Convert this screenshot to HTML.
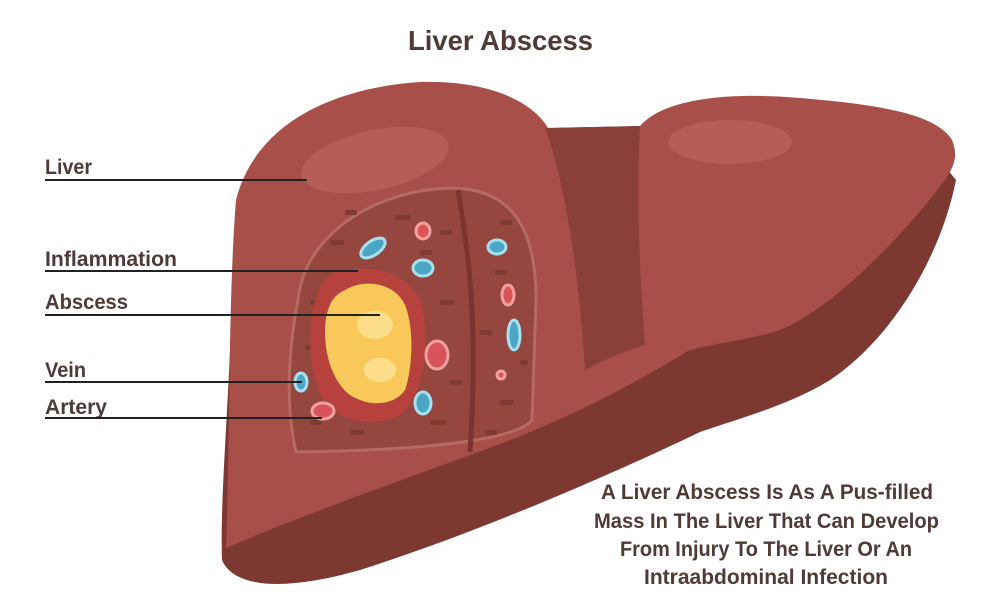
<!DOCTYPE html>
<html><head><meta charset="utf-8"><style>
html,body{margin:0;padding:0;background:#fff;}
svg{display:block}
text{font-family:"Liberation Sans",sans-serif;font-weight:bold;fill:#4f3a36}
</style></head><body>
<svg width="1000" height="598" viewBox="0 0 1000 598" xmlns="http://www.w3.org/2000/svg">
<rect width="1000" height="598" fill="#fff"/>
<text x="408" y="50" font-size="28" textLength="185" lengthAdjust="spacingAndGlyphs">Liver Abscess</text>
<!-- dark underside -->
<path d="M232,300 C228,420 220,500 222,560 C235,590 290,590 360,570 C470,535 600,480 700,432 C740,418 790,405 830,380 C890,340 940,260 956,180 L940,160 L232,300 Z" fill="#7d3832"/>
<!-- light face -->
<path d="M236,200 C255,125 330,88 420,82 C495,80 535,105 548,128 L640,126 C665,98 730,92 800,98 C870,104 935,112 952,140 C958,155 955,165 945,180 C900,240 830,310 780,330 C750,340 715,343 690,350 C640,380 570,420 470,455 C380,488 290,520 226,548 C230,450 228,300 236,200 Z" fill="#a84f49"/>
<!-- strip between lobes -->
<path d="M545,128 L640,126 C636,200 640,280 645,345 C620,352 600,362 585,370 C580,290 568,190 545,128 Z" fill="#8b3f39"/>
<!-- highlights -->
<ellipse cx="375" cy="160" rx="75" ry="30" transform="rotate(-12 375 160)" fill="#b55e57"/>
<ellipse cx="730" cy="142" rx="62" ry="22" fill="#b55e57"/>
<!-- cross-section -->
<path d="M298,300 C305,232 378,190 450,188 C520,188 536,240 536,300 L532,420 C518,438 440,450 296,452 C284,400 290,340 298,300 Z" fill="#94463f" stroke="#b56a62" stroke-width="3"/>
<path d="M458,190 C470,260 478,330 470,452" fill="none" stroke="#7c332e" stroke-width="5"/>
<g fill="#7f3a34">
<rect x="330" y="240" width="14" height="5" rx="2"/><rect x="395" y="215" width="16" height="5" rx="2"/>
<rect x="440" y="300" width="14" height="5" rx="2"/><rect x="310" y="300" width="12" height="5" rx="2"/>
<rect x="495" y="270" width="12" height="5" rx="2"/><rect x="500" y="400" width="14" height="5" rx="2"/>
<rect x="430" y="420" width="16" height="5" rx="2"/><rect x="350" y="430" width="14" height="5" rx="2"/>
<rect x="310" y="420" width="12" height="5" rx="2"/><rect x="480" y="330" width="12" height="5" rx="2"/>
<rect x="420" y="250" width="12" height="5" rx="2"/><rect x="500" y="220" width="12" height="5" rx="2"/>
<rect x="345" y="210" width="12" height="5" rx="2"/><rect x="450" y="380" width="12" height="5" rx="2"/>
<rect x="485" y="430" width="12" height="5" rx="2"/><rect x="305" y="345" width="10" height="5" rx="2"/>
<rect x="520" y="360" width="8" height="5" rx="2"/><rect x="440" y="230" width="12" height="5" rx="2"/>
</g>
<!-- inflammation -->
<path d="M330,275 C360,262 405,268 420,300 C432,340 425,395 400,415 C370,430 330,420 318,390 C305,350 308,295 330,275 Z" fill="#b7413d"/>
<!-- abscess -->
<path d="M345,290 C365,278 395,283 405,305 C415,330 412,370 405,390 C395,405 370,408 350,395 C330,380 322,345 326,318 C330,300 335,295 345,290 Z" fill="#f8c95a"/>
<ellipse cx="375" cy="325" rx="18" ry="14" fill="#fbdd8a"/>
<ellipse cx="380" cy="370" rx="16" ry="12" fill="#fbdd8a"/>
<!-- veins -->
<g fill="#4aa6c4" stroke="#a7e1ef" stroke-width="3">
<ellipse cx="373" cy="248" rx="14" ry="7" transform="rotate(-35 373 248)"/>
<ellipse cx="423" cy="268" rx="10" ry="8"/>
<ellipse cx="497" cy="247" rx="9" ry="7"/>
<ellipse cx="514" cy="335" rx="6" ry="15"/>
<ellipse cx="423" cy="403" rx="8" ry="11"/>
<ellipse cx="301" cy="382" rx="6" ry="9"/>
</g>
<g fill="#d9535a" stroke="#f3a0a0" stroke-width="3">
<ellipse cx="423" cy="231" rx="7" ry="8"/>
<ellipse cx="508" cy="295" rx="6" ry="10"/>
<ellipse cx="437" cy="355" rx="11" ry="14"/>
<ellipse cx="501" cy="375" rx="4" ry="4"/>
<ellipse cx="323" cy="411" rx="11" ry="8"/>
</g>
<!-- labels -->
<g font-size="21">
<text x="45" y="174" textLength="47" lengthAdjust="spacingAndGlyphs">Liver</text>
<text x="45" y="266" textLength="132" lengthAdjust="spacingAndGlyphs">Inflammation</text>
<text x="45" y="309" textLength="83" lengthAdjust="spacingAndGlyphs">Abscess</text>
<text x="45" y="377" textLength="41" lengthAdjust="spacingAndGlyphs">Vein</text>
<text x="45" y="414" textLength="62" lengthAdjust="spacingAndGlyphs">Artery</text>
</g>
<g stroke="#222" stroke-width="2">
<line x1="45" y1="180" x2="307" y2="180"/>
<line x1="45" y1="271" x2="358" y2="271"/>
<line x1="45" y1="315" x2="380" y2="315"/>
<line x1="45" y1="382" x2="302" y2="382"/>
<line x1="45" y1="418" x2="322" y2="418"/>
</g>
<g font-size="21">
<text x="601" y="499" textLength="332" lengthAdjust="spacingAndGlyphs">A Liver Abscess Is As A Pus-filled</text>
<text x="594" y="528" textLength="345" lengthAdjust="spacingAndGlyphs">Mass In The Liver That Can Develop</text>
<text x="620" y="556" textLength="292" lengthAdjust="spacingAndGlyphs">From Injury To The Liver Or An</text>
<text x="644" y="584" textLength="244" lengthAdjust="spacingAndGlyphs">Intraabdominal Infection</text>
</g>
</svg>
</body></html>
